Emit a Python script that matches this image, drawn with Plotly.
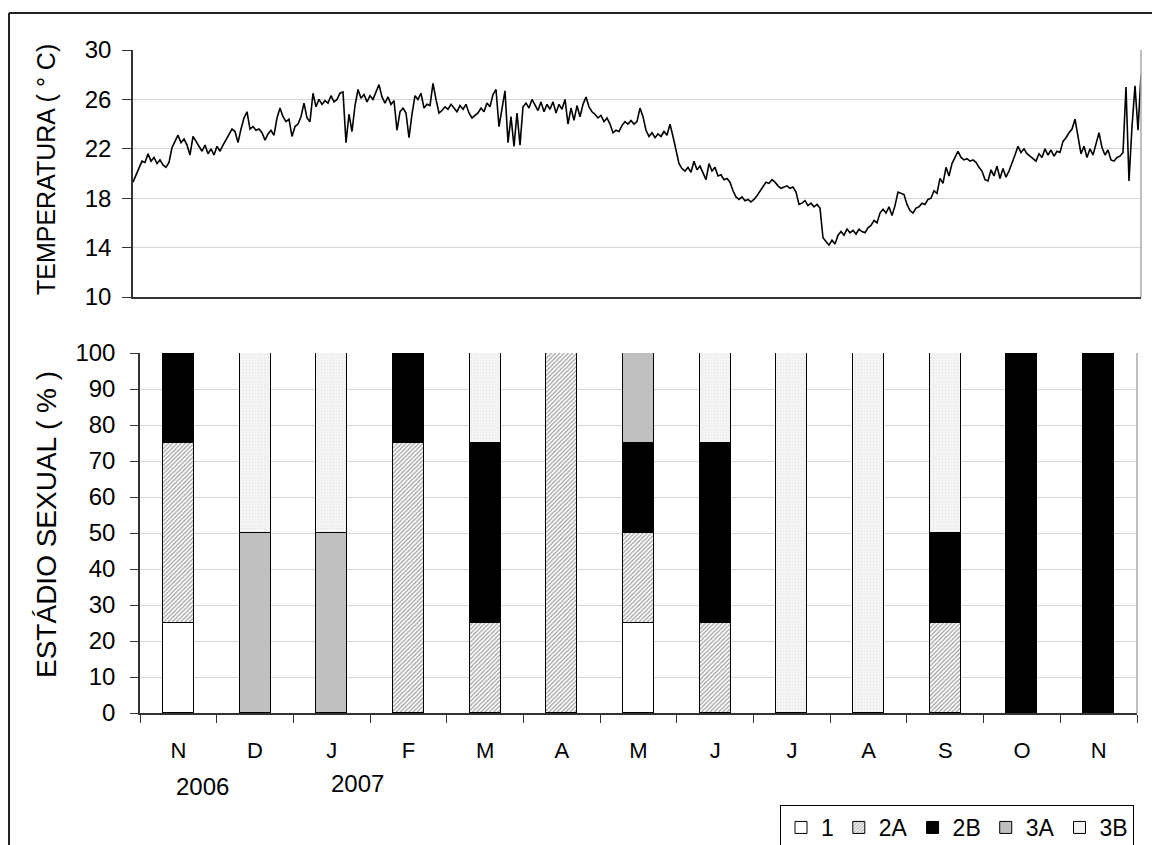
import plotly.graph_objects as go
import pandas as pd

# ---------------- data ----------------
temp_start = "2006-11-01"
temp_end = "2007-11-30"
temperature = [
    19.3, 19.9, 20.4, 21.0, 20.9, 21.6, 21.0, 21.3, 20.8, 21.1,
    20.7, 20.5, 20.9, 22.1, 22.6, 23.1, 22.5, 22.8, 22.3, 21.5,
    23.0, 22.6, 22.2, 21.8, 22.3, 21.6, 22.0, 21.5, 22.2, 21.8,
    22.3, 22.7, 23.2, 23.6, 23.4, 22.5, 23.6, 24.5, 25.0, 23.6,
    23.8, 23.5, 23.6, 23.3, 22.7, 23.2, 23.5, 23.1, 24.5, 25.3,
    24.6, 24.2, 24.4, 23.0, 23.8, 24.0, 24.6, 25.7, 24.5, 24.2,
    26.5, 25.4, 26.0, 25.6, 25.9, 25.7, 26.3, 25.8, 26.0, 26.5,
    26.6, 22.5, 24.8, 23.4, 25.5, 26.8, 26.1, 26.4, 25.8, 26.3,
    26.0, 26.6, 27.2, 26.2, 25.7, 26.2, 25.6, 25.9, 23.5, 25.0,
    25.3, 24.9, 22.9, 24.8, 26.3, 26.0, 26.5, 25.3, 25.6, 25.5,
    27.3, 26.0, 24.9, 25.1, 25.4, 25.2, 25.6, 25.3, 25.0, 25.5,
    25.2, 25.6, 24.9, 24.5, 24.7, 24.9, 25.3, 25.0, 25.7, 25.4,
    26.4, 26.8, 23.8, 25.3, 26.7, 22.5, 24.6, 22.2, 24.9, 22.3,
    25.4, 25.7, 25.3, 26.0, 25.5, 25.1, 25.8, 25.0, 25.6, 25.2,
    25.8, 24.9, 25.6, 25.2, 26.0, 24.0, 25.3, 24.3, 25.5, 24.6,
    25.6, 26.2, 25.4, 25.0, 24.8, 24.5, 24.7, 24.2, 24.5, 24.0,
    23.3, 23.5, 23.4, 23.9, 24.2, 24.0, 24.3, 24.0, 24.2, 25.3,
    24.6, 23.5, 23.0, 23.3, 22.9, 23.2, 23.0, 23.4, 23.1, 24.0,
    23.0, 21.8, 20.8, 20.4, 20.2, 20.5, 20.1, 21.0, 20.3, 20.6,
    20.0, 19.5, 20.8, 20.2, 20.5, 19.8, 19.9, 19.5, 19.6, 19.3,
    18.6, 18.1, 17.9, 18.1, 17.8, 17.9, 17.7, 17.9, 18.2, 18.6,
    19.0, 19.3, 19.2, 19.5, 19.3, 19.0, 18.8, 18.9, 19.0, 18.8,
    18.9, 18.5, 17.5, 17.6, 17.8, 17.4, 17.6, 17.3, 17.5, 17.2,
    14.8, 14.5, 14.2, 14.6, 14.3, 15.0, 15.3, 15.0, 15.5, 15.2,
    15.4, 15.1, 15.5, 15.3, 15.2, 15.6, 15.8, 16.2, 16.0, 16.8,
    17.1, 16.8, 17.3, 16.6, 17.4, 18.5, 18.4, 18.3, 17.5, 17.0,
    16.8, 17.2, 17.3, 17.6, 17.5, 17.9, 18.0, 18.6, 18.4, 19.6,
    19.2, 20.5, 19.8, 20.8, 21.3, 21.8, 21.3, 21.1, 21.2, 21.0,
    21.1, 20.9, 20.5, 20.2, 19.5, 19.4, 20.3, 19.8, 20.6, 19.6,
    20.4, 19.7, 20.2, 20.8, 21.5, 22.2, 21.7, 22.0, 21.6, 21.4,
    21.2, 21.0, 21.6, 21.3, 22.0, 21.5, 21.9, 21.4, 21.8, 21.7,
    22.6, 22.9, 23.3, 23.6, 24.4, 22.8, 21.6, 22.2, 21.3, 22.0,
    21.5, 22.4, 23.3, 22.1, 21.5, 21.9, 21.1, 21.0, 21.3, 21.4,
    21.7, 27.0, 19.4, 23.8, 27.1, 23.5, 28.0,
]

months = ["N", "D", "J", "F", "M", "A", "M", "J", "J", "A", "S", "O", "N"]
stage_1 = [25, 0, 0, 0, 0, 0, 25, 0, 0, 0, 0, 0, 0]
stage_2A = [50, 0, 0, 75, 25, 100, 25, 25, 0, 0, 25, 0, 0]
stage_2B = [25, 0, 0, 25, 50, 0, 25, 50, 0, 0, 25, 100, 100]
stage_3A = [0, 50, 50, 0, 0, 0, 25, 0, 0, 0, 0, 0, 0]
stage_3B = [0, 50, 50, 0, 25, 0, 0, 25, 100, 100, 50, 0, 0]
stage_names = ["1", "2A", "2B", "3A", "3B"]
temp_ticks = [10, 14, 18, 22, 26, 30]
years = ["2006", "2007"]

# ---------------- figure ----------------
W, H = 1160, 845
OFF = 8  # page offset of the plot div
FONT = "Liberation Sans, Arial, sans-serif"
AX = "#333333"
GRID = "#d6d6d6"


def px(x):
    return (x - OFF) / W


def py(y):
    return 1 - (y - OFF) / H


fig = go.Figure()

dates = pd.date_range(temp_start, temp_end, periods=len(temperature))
fig.add_trace(go.Scatter(
    x=dates, y=temperature, mode="lines",
    line=dict(color="black", width=1.6),
    xaxis="x", yaxis="y", showlegend=False, hoverinfo="skip",
))

styles = {
    "1": dict(color="white"),
    "2A": dict(color="white", pattern=dict(shape="/", fgcolor="#3a3a3a",
                                           bgcolor="white", size=3, solidity=0.4)),
    "2B": dict(color="black"),
    "3A": dict(color="#c0c0c0"),
    "3B": dict(color="#f3f3f3", pattern=dict(shape=".", fgcolor="#dcdcdc",
                                             bgcolor="#f6f6f6", size=3, solidity=0.3)),
}
idx = list(range(len(months)))
for name, vals in zip(stage_names, [stage_1, stage_2A, stage_2B, stage_3A, stage_3B]):
    st = styles[name]
    marker = dict(color=st["color"], line=dict(color="black", width=1))
    if "pattern" in st:
        marker["pattern"] = st["pattern"]
    fig.add_trace(go.Bar(
        x=idx, y=[v if v else None for v in vals], name=name,
        xaxis="x2", yaxis="y2", width=0.404, marker=marker,
        hoverinfo="skip",
    ))

fig.update_layout(
    width=W, height=H,
    margin=dict(l=0, r=0, t=0, b=0, autoexpand=False),
    paper_bgcolor="white", plot_bgcolor="white",
    font=dict(family=FONT, color="black", size=22),
    barmode="stack",
    bargap=0,
    xaxis=dict(
        domain=[px(133), px(1141)], anchor="y",
        range=[dates[0], dates[-1]],
        showticklabels=False, showgrid=False, ticks="",
        showline=True, linecolor=AX, linewidth=1.5, zeroline=False,
    ),
    yaxis=dict(
        domain=[py(297), py(50)], anchor="x",
        range=[10, 30], tickmode="array", tickvals=temp_ticks,
        showgrid=True, gridcolor=GRID, gridwidth=1,
        showline=True, linecolor=AX, linewidth=1.5,
        ticks="outside", ticklen=9, tickcolor=AX, tickwidth=1.2,
        tickfont=dict(size=24), ticklabelstandoff=6, zeroline=False,
    ),
    xaxis2=dict(
        domain=[px(140), px(1137)], anchor="y2",
        range=[-0.5, len(months) - 0.5],
        tickmode="array", tickvals=idx, ticktext=months,
        ticks="outside", ticklen=17, tickcolor="rgba(0,0,0,0)",
        tickfont=dict(size=22),
        minor=dict(tickmode="array", tickvals=[i - 0.5 for i in range(len(months) + 1)],
                   ticks="outside", ticklen=8, tickcolor=AX, tickwidth=1.2, showgrid=False),
        showgrid=False, showline=True, linecolor=AX, linewidth=1.5, zeroline=False,
    ),
    yaxis2=dict(
        domain=[py(713), py(353)], anchor="x2",
        range=[0, 100], tickmode="linear", tick0=0, dtick=10,
        showgrid=True, gridcolor=GRID, gridwidth=1,
        showline=True, linecolor=AX, linewidth=1.5,
        ticks="outside", ticklen=8, tickcolor=AX, tickwidth=1.2,
        tickfont=dict(size=24), ticklabelstandoff=10, zeroline=False,
    ),
    legend=dict(
        orientation="h", xref="container", yref="container",
        x=px(780), xanchor="left", y=py(805), yanchor="top",
        bordercolor="black", borderwidth=1, bgcolor="white",
        font=dict(size=23), traceorder="normal", itemwidth=30,
    ),
    shapes=[
        # outer frame (top and left edges)
        dict(type="line", xref="paper", yref="paper", x0=px(9), x1=1.01,
             y0=py(13), y1=py(13), line=dict(color="#222", width=2)),
        dict(type="line", xref="paper", yref="paper", x0=px(9), x1=px(9),
             y0=py(13), y1=-0.01, line=dict(color="#222", width=2)),
        # right borders of plot areas
        dict(type="line", xref="x domain", yref="y domain", x0=1, x1=1, y0=0, y1=1,
             line=dict(color="#a8a8a8", width=1.5)),
        dict(type="line", xref="x2 domain", yref="y2 domain", x0=1, x1=1, y0=0, y1=1,
             line=dict(color="#a8a8a8", width=1.5)),
    ],
    annotations=[
        dict(text="TEMPERATURA ( ° C)", textangle=-90, xref="paper", yref="paper",
             x=px(46), y=py(170), xanchor="center", yanchor="middle",
             showarrow=False, font=dict(size=25)),
        dict(text="ESTÁDIO SEXUAL ( % )", textangle=-90, xref="paper", yref="paper",
             x=px(46), y=py(525), xanchor="center", yanchor="middle",
             showarrow=False, font=dict(size=28)),
        dict(text=years[0], xref="paper", yref="paper", x=px(202), y=py(786),
             xanchor="center", yanchor="middle", showarrow=False, font=dict(size=24)),
        dict(text=years[1], xref="paper", yref="paper", x=px(357), y=py(783),
             xanchor="center", yanchor="middle", showarrow=False, font=dict(size=24)),
    ],
)

fig.write_html("out.html")
